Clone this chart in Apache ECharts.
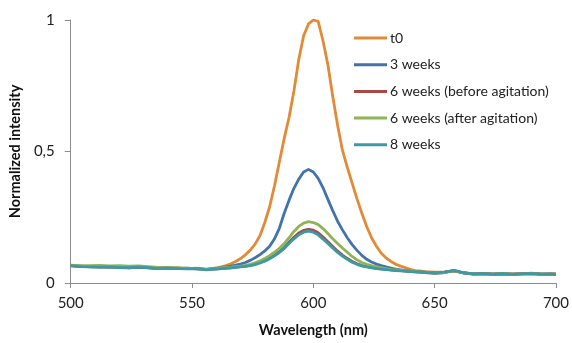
<!DOCTYPE html>
<html>
<head>
<meta charset="utf-8">
<script src="https://cdn.jsdelivr.net/npm/echarts@6/dist/echarts.min.js"></script>
<style>
  html, body { margin: 0; padding: 0; background: #fff; }
  #chart { width: 572px; height: 343px; }
</style>
</head>
<body>
<div id="chart"></div>
<script>
// Emission spectra, normalized to the t0 maximum
const wavelengths = [
  500, 504, 508, 512, 516, 520, 524, 528, 532, 536, 540, 544, 548, 552, 556,
  558, 560, 562, 564, 566, 568, 570, 572, 574, 576, 578, 580, 582, 584, 586,
  588, 590, 592, 594, 596, 598, 600, 602, 604, 606, 608, 610, 612, 614, 616,
  618, 620, 622, 624, 626, 628, 630, 632, 634, 636, 638, 640, 642, 644, 646,
  650, 654, 658, 662, 666, 670, 674, 678, 682, 686, 690, 694, 698, 700
];

const t0 = [
  0.066, 0.063, 0.062, 0.061, 0.062, 0.060, 0.059, 0.061, 0.058, 0.057, 0.056, 0.057, 0.055, 0.056, 0.052,
  0.055, 0.057, 0.061, 0.066, 0.073, 0.082, 0.093, 0.107, 0.125, 0.148, 0.180, 0.230, 0.290, 0.370, 0.460,
  0.550, 0.630, 0.730, 0.850, 0.940, 0.985, 1.000, 0.995, 0.920, 0.830, 0.710, 0.600, 0.505, 0.440, 0.380,
  0.320, 0.265, 0.215, 0.172, 0.140, 0.113, 0.095, 0.082, 0.071, 0.064, 0.058, 0.052, 0.047, 0.046, 0.043,
  0.041, 0.041, 0.047, 0.038, 0.035, 0.036, 0.034, 0.036, 0.034, 0.035, 0.037, 0.034, 0.035, 0.034
];

const weeks3 = [
  0.065, 0.064, 0.061, 0.062, 0.060, 0.061, 0.058, 0.060, 0.059, 0.056, 0.057, 0.055, 0.056, 0.054, 0.052,
  0.054, 0.056, 0.058, 0.061, 0.064, 0.068, 0.072, 0.078, 0.086, 0.096, 0.108, 0.122, 0.140, 0.168, 0.208,
  0.265, 0.315, 0.360, 0.395, 0.422, 0.432, 0.422, 0.398, 0.362, 0.318, 0.275, 0.235, 0.202, 0.172, 0.146,
  0.124, 0.105, 0.090, 0.080, 0.072, 0.066, 0.061, 0.057, 0.053, 0.050, 0.047, 0.045, 0.044, 0.042, 0.041,
  0.038, 0.040, 0.047, 0.038, 0.035, 0.035, 0.034, 0.035, 0.034, 0.036, 0.036, 0.034, 0.035, 0.034
];

const weeks6Before = [
  0.067, 0.063, 0.063, 0.061, 0.061, 0.060, 0.060, 0.059, 0.059, 0.057, 0.056, 0.056, 0.055, 0.055, 0.051,
  0.053, 0.054, 0.055, 0.057, 0.058, 0.060, 0.062, 0.064, 0.067, 0.072, 0.078, 0.086, 0.095, 0.106, 0.119,
  0.135, 0.155, 0.174, 0.190, 0.200, 0.204, 0.201, 0.191, 0.175, 0.157, 0.139, 0.121, 0.106, 0.093, 0.082,
  0.073, 0.066, 0.062, 0.059, 0.056, 0.054, 0.052, 0.050, 0.048, 0.047, 0.045, 0.044, 0.042, 0.041, 0.040,
  0.038, 0.040, 0.046, 0.038, 0.034, 0.036, 0.034, 0.035, 0.034, 0.035, 0.036, 0.034, 0.034, 0.034
];

const weeks6After = [
  0.068, 0.066, 0.066, 0.067, 0.065, 0.066, 0.064, 0.065, 0.062, 0.059, 0.058, 0.057, 0.056, 0.055, 0.053,
  0.054, 0.055, 0.057, 0.059, 0.060, 0.062, 0.064, 0.067, 0.071, 0.077, 0.084, 0.093, 0.104, 0.117, 0.132,
  0.150, 0.172, 0.196, 0.215, 0.228, 0.233, 0.230, 0.222, 0.207, 0.188, 0.168, 0.150, 0.133, 0.117, 0.101,
  0.088, 0.078, 0.071, 0.066, 0.062, 0.058, 0.055, 0.052, 0.050, 0.048, 0.046, 0.044, 0.043, 0.042, 0.041,
  0.038, 0.040, 0.047, 0.038, 0.035, 0.035, 0.034, 0.036, 0.034, 0.035, 0.036, 0.034, 0.035, 0.034
];

const weeks8 = [
  0.066, 0.062, 0.061, 0.060, 0.061, 0.059, 0.058, 0.060, 0.058, 0.055, 0.056, 0.055, 0.054, 0.055, 0.050,
  0.052, 0.053, 0.055, 0.056, 0.058, 0.059, 0.061, 0.063, 0.066, 0.070, 0.076, 0.083, 0.092, 0.103, 0.116,
  0.131, 0.150, 0.168, 0.183, 0.193, 0.197, 0.193, 0.183, 0.167, 0.150, 0.133, 0.116, 0.102, 0.090, 0.079,
  0.071, 0.065, 0.061, 0.058, 0.055, 0.053, 0.051, 0.049, 0.047, 0.046, 0.045, 0.043, 0.042, 0.041, 0.040,
  0.038, 0.041, 0.048, 0.039, 0.035, 0.036, 0.034, 0.036, 0.033, 0.035, 0.036, 0.034, 0.034, 0.033
];

const seriesNames = ['t0', '3 weeks', '6 weeks (before agitation)', '6 weeks (after agitation)', '8 weeks'];
const seriesValues = [t0, weeks3, weeks6Before, weeks6After, weeks8];
const seriesColors = ['#E38A36', '#4473AA', '#A94846', '#8FB355', '#3C9AA7'];

const xTicks = [500, 550, 600, 650, 700];
const yTicks = [0, 0.5, 1];

const FONT = 'Lato';
const axisGrey = '#8C8C8C';

const chart = echarts.init(document.getElementById('chart'), null, { renderer: 'canvas' });

chart.setOption({
  animation: false,
  backgroundColor: '#ffffff',
  grid: { left: 67, right: 15, top: 20, bottom: 56, containLabel: false },
  legend: {
    orient: 'vertical',
    left: 349,
    top: 26,
    icon: 'rect',
    itemWidth: 33,
    itemHeight: 3,
    itemGap: 12.7,
    data: seriesNames,
    textStyle: { fontFamily: FONT, fontSize: 14, color: '#222', padding: [0, 0, 0, -2] }
  },
  xAxis: {
    type: 'value',
    min: xTicks[0],
    max: xTicks[xTicks.length - 1],
    interval: xTicks[1] - xTicks[0],
    name: 'Wavelength (nm)',
    nameLocation: 'middle',
    nameGap: 40,
    nameTextStyle: { fontFamily: FONT, fontSize: 14.5, fontWeight: 'bold', color: '#111' },
    axisLine: { show: true, lineStyle: { color: axisGrey, width: 1 } },
    axisTick: { show: true, inside: false, length: 5, lineStyle: { color: axisGrey } },
    axisLabel: { fontFamily: FONT, fontSize: 15, color: '#222', margin: 13 },
    splitLine: { show: false }
  },
  yAxis: {
    type: 'value',
    min: yTicks[0],
    max: yTicks[yTicks.length - 1],
    interval: yTicks[1] - yTicks[0],
    name: 'Normalized intensity',
    nameLocation: 'middle',
    nameGap: 41,
    nameTextStyle: { fontFamily: FONT, fontSize: 14.5, fontWeight: 'bold', color: '#111' },
    axisLine: { show: true, lineStyle: { color: axisGrey, width: 1 } },
    axisTick: { show: true, inside: false, length: 6, lineStyle: { color: axisGrey } },
    axisLabel: {
      fontFamily: FONT, fontSize: 15, color: '#222', margin: 16,
      formatter: v => String(v).replace('.', ',')
    },
    splitLine: { show: false }
  },
  series: seriesNames.map((name, i) => ({
    name,
    type: 'line',
    data: wavelengths.map((w, j) => [w, seriesValues[i][j]]),
    symbol: 'none',
    smooth: false,
    color: seriesColors[i],
    lineStyle: { width: 2.8, color: seriesColors[i], join: 'round' },
    z: 2 + i
  }))
});
</script>
</body>
</html>
